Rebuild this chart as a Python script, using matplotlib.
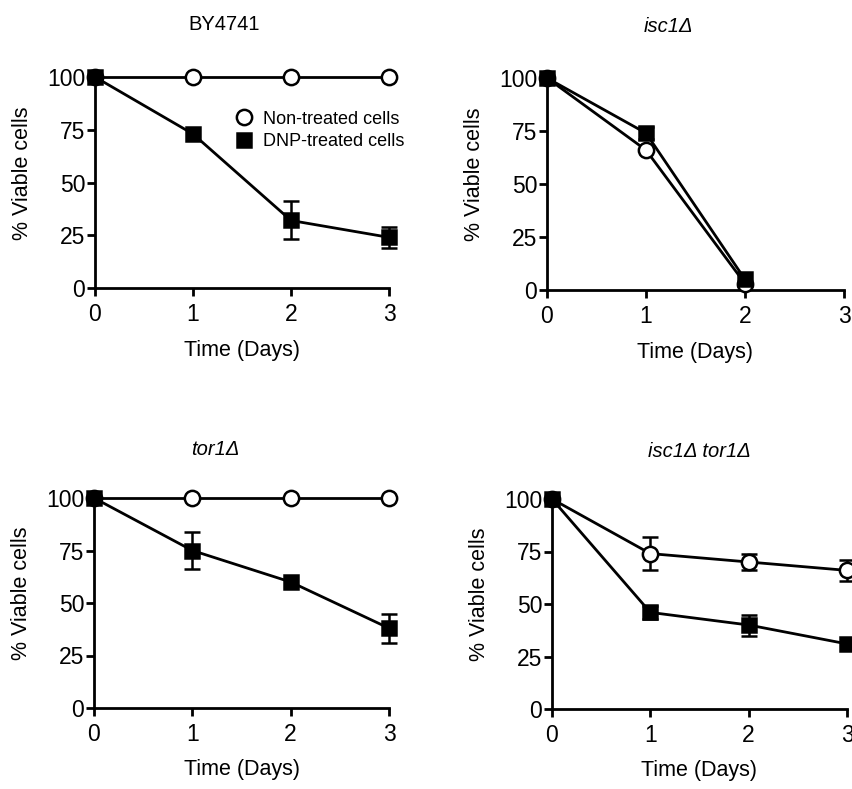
"""Viability time courses for BY4741 and deletion strains, non-treated vs DNP-treated."""

import matplotlib
matplotlib.use("Agg")
import matplotlib.pyplot as plt
import numpy as np

plt.rcParams.update({
    "font.family": ["Liberation Sans", "DejaVu Sans"],
    "axes.spines.top": False,
    "axes.spines.right": False,
    "axes.linewidth": 2.0,
    "xtick.major.width": 2.0,
    "ytick.major.width": 2.0,
    "xtick.major.size": 6,
    "ytick.major.size": 5.5,
})

# ---- data (percent viable cells vs days) ----
days = [0, 1, 2, 3]

by_ctrl = [100, 100, 100, 100]
by_ctrl_err = [0, 0, 0, 0]
by_dnp = [100, 73, 32, 24]
by_dnp_err = [0, 0, 9, 5]

isc_days = [0, 1, 2]
isc_ctrl = [100, 66, 3]
isc_ctrl_err = [0, 0, 0]
isc_dnp = [100, 74, 5]
isc_dnp_err = [0, 3, 0]

tor_ctrl = [100, 100, 100, 100]
tor_ctrl_err = [0, 0, 0, 0]
tor_dnp = [100, 75, 60, 38]
tor_dnp_err = [0, 9, 0, 7]

dbl_ctrl = [100, 74, 70, 66]
dbl_ctrl_err = [0, 8, 4, 5]
dbl_dnp = [100, 46, 40, 31]
dbl_dnp_err = [0, 3, 5, 0]

titles = ["BY4741", "isc1Δ", "tor1Δ", "isc1Δ tor1Δ"]
title_italic = [False, True, True, True]
yticks = [0, 25, 50, 75, 100]

# axes boxes in pixels: left, top, right, bottom
W, H = 853, 789
boxes = [(95, 77, 389, 288), (547, 78, 844, 290),
         (94, 498, 389, 708), (552, 499, 847, 709)]
title_pos = [(224, 25), (668, 26), (215, 449), (699, 451)]


def draw_series(ax, x, y, err, filled):
    x, y, err = np.asarray(x), np.asarray(y), np.asarray(err)
    z = 5 if filled else 4
    # error bars only where there is a spread
    has = err > 0
    if has.any():
        eb = ax.errorbar(x[has], y[has], yerr=err[has], fmt="none",
                         ecolor="black", elinewidth=1.8, capsize=6,
                         capthick=1.8, zorder=z - 0.5)
        for artist in eb.lines[1] + eb.lines[2]:
            artist.set_clip_on(False)
    line, = ax.plot(x, y, color="black", linewidth=2.0,
                    marker="s" if filled else "o",
                    markersize=10.5 if filled else 11,
                    markerfacecolor="black" if filled else "white",
                    markeredgecolor="black", markeredgewidth=1.8,
                    clip_on=False, zorder=z)
    return line


fig = plt.figure(figsize=(W / 100, H / 100), dpi=100)

panels = [
    (days, by_ctrl, by_ctrl_err, days, by_dnp, by_dnp_err),
    (isc_days, isc_ctrl, isc_ctrl_err, isc_days, isc_dnp, isc_dnp_err),
    (days, tor_ctrl, tor_ctrl_err, days, tor_dnp, tor_dnp_err),
    (days, dbl_ctrl, dbl_ctrl_err, days, dbl_dnp, dbl_dnp_err),
]

for i, (box, data) in enumerate(zip(boxes, panels)):
    l, t, r, b = box
    ax = fig.add_axes([l / W, 1 - b / H, (r - l) / W, (b - t) / H])
    xc, yc, ec, xd, yd, ed = data
    h_ctrl = draw_series(ax, xc, yc, ec, filled=False)
    h_dnp = draw_series(ax, xd, yd, ed, filled=True)

    ax.set_xlim(0, 3)
    ax.set_ylim(0, 100)
    ax.set_xticks(days)
    ax.set_yticks(yticks)
    ax.tick_params(axis="x", pad=5, labelsize=16.5)
    ax.tick_params(axis="y", pad=1.5, labelsize=16.5)

    ax.set_xlabel("Time (Days)", fontsize=15.5)
    ax.xaxis.set_label_coords(0.5, -0.245)
    ax.set_ylabel("% Viable cells", fontsize=15.5)
    ax.yaxis.set_label_coords(-72 / (r - l), 0.545)
    ax.yaxis.label.set_verticalalignment("center")

    tx, ty = title_pos[i]
    fig.text(tx / W, 1 - ty / H, titles[i], ha="center", va="center",
             fontsize=14.5, style="italic" if title_italic[i] else "normal")

    if i == 0:
        leg = ax.legend([h_ctrl, h_dnp],
                        ["Non-treated cells", "DNP-treated cells"],
                        loc="upper left", bbox_to_anchor=(0.478, 0.84),
                        frameon=False, fontsize=13, handlelength=0.9,
                        handletextpad=0.6, labelspacing=0.3, borderpad=0,
                        borderaxespad=0)
        for line in leg.get_lines():
            line.set_linestyle("none")

fig.savefig("out.png", dpi=100)
